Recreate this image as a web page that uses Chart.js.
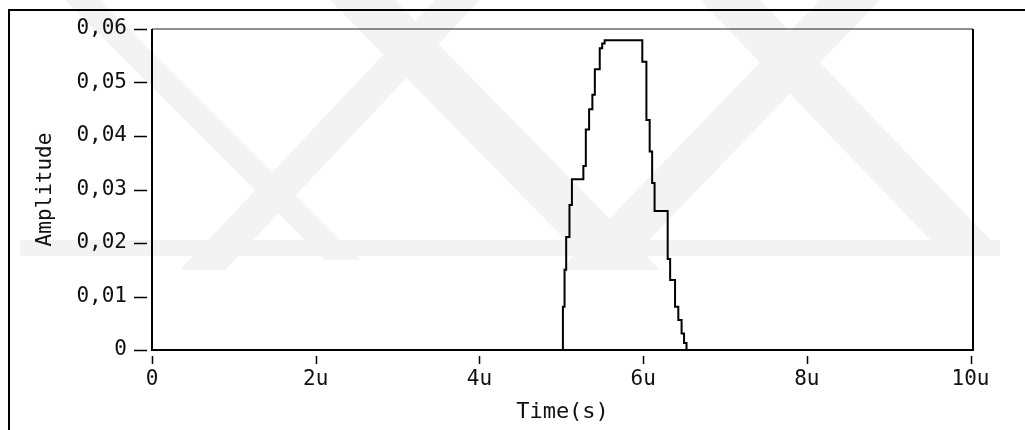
<!DOCTYPE html>
<html><head><meta charset="utf-8">
<script src="https://cdn.jsdelivr.net/npm/chart.js@4/dist/chart.umd.min.js"></script>
<style>html,body{margin:0;padding:0;background:#fff;overflow:hidden}#wrap{position:relative;width:1025px;height:430px}</style>
</head><body><div id="wrap"><canvas id="c" width="1025" height="430"></canvas></div>
<script>
// Time in microseconds (u), value holds from this time onward
const timeUs = [0, 5.02, 5.04, 5.06, 5.10, 5.13, 5.27, 5.30, 5.34, 5.38, 5.41, 5.47, 5.50, 5.53,
  5.99, 6.04, 6.08, 6.11, 6.14, 6.30, 6.33, 6.39, 6.43, 6.47, 6.50, 6.53, 10.03];
const amplitude = [0, 0.0081, 0.0150, 0.0211, 0.0271, 0.0319, 0.0344, 0.0412, 0.0450, 0.0477, 0.0525, 0.0564, 0.0573, 0.0579,
  0.0539, 0.0430, 0.0371, 0.0312, 0.0260, 0.0170, 0.0131, 0.0081, 0.0056, 0.0031, 0.0013, 0, 0];
const xTickValues = [0, 2, 4, 6, 8, 10];
const xTickLabels = ['0', '2u', '4u', '6u', '8u', '10u'];
const yTickValues = [0, 0.01, 0.02, 0.03, 0.04, 0.05, 0.06];
const yTickLabels = ['0', '0,01', '0,02', '0,03', '0,04', '0,05', '0,06'];
const xTitle = 'Time(s)';
const yTitle = 'Amplitude';

const FONT = "'DejaVu Sans Mono', monospace";

const deco = {
  id: 'deco',
  beforeDraw(chart) {
    const ctx = chart.ctx;
    ctx.save();
    ctx.fillStyle = '#fff';
    ctx.fillRect(0, 0, chart.width, chart.height);
    // faint watermark bands
    ctx.fillStyle = '#f3f3f3';
    const polys = [
      [[65,0],[100,0],[360,260],[325,260]],
      [[180,270],[225,270],[480,0],[435,0]],
      [[330,0],[395,0],[660,270],[595,270]],
      [[560,270],[620,270],[880,0],[820,0]],
      [[700,0],[760,0],[1000,250],[940,250]],
      [[20,240],[1000,240],[1000,256],[20,256]]
    ];
    for (const p of polys) {
      ctx.beginPath();
      ctx.moveTo(p[0][0], p[0][1]);
      for (let i = 1; i < p.length; i++) ctx.lineTo(p[i][0], p[i][1]);
      ctx.closePath();
      ctx.fill();
    }
    ctx.restore();
  },
  afterDraw(chart) {
    const ctx = chart.ctx;
    const a = chart.chartArea;
    const xs = chart.scales.x, ys = chart.scales.y;
    ctx.save();
    ctx.strokeStyle = '#000';
    // outer frame (top & left)
    ctx.lineWidth = 2;
    ctx.beginPath();
    ctx.moveTo(1025, 10); ctx.lineTo(9, 10); ctx.lineTo(9, 430);
    ctx.stroke();
    // plot frame
    ctx.lineWidth = 1.2;
    ctx.strokeStyle = '#222';
    ctx.beginPath();
    ctx.moveTo(a.left, a.top); ctx.lineTo(a.right, a.top);
    ctx.stroke();
    ctx.lineWidth = 2;
    ctx.strokeStyle = '#000';
    ctx.beginPath();
    ctx.moveTo(a.right, a.top); ctx.lineTo(a.right, a.bottom); ctx.lineTo(a.left, a.bottom); ctx.lineTo(a.left, a.top);
    ctx.stroke();
    // tick marks
    ctx.lineWidth = 1.5;
    ctx.beginPath();
    for (const v of yTickValues) {
      const y = Math.round(ys.getPixelForValue(v)) + 0.5;
      ctx.moveTo(a.left - 18, y); ctx.lineTo(a.left - 5, y);
    }
    for (const v of xTickValues) {
      const x = Math.round(xs.getPixelForValue(v)) + 0.5;
      ctx.moveTo(x, a.bottom + 6); ctx.lineTo(x, a.bottom + 14);
    }
    ctx.stroke();
    ctx.restore();
  }
};

new Chart(document.getElementById('c'), {
  type: 'line',
  data: {
    datasets: [{
      data: timeUs.map((t, i) => ({ x: t, y: amplitude[i] })),
      borderColor: '#000',
      borderWidth: 2,
      stepped: true,
      pointRadius: 0,
      fill: false,
      clip: false
    }]
  },
  options: {
    responsive: false,
    devicePixelRatio: 1,
    animation: false,
    layout: { padding: { left: 0, top: 29, right: 52, bottom: 1 } },
    plugins: { legend: { display: false }, tooltip: { enabled: false } },
    scales: {
      x: {
        type: 'linear',
        min: 0, max: 10.03,
        afterBuildTicks(s) { s.ticks = xTickValues.map(v => ({ value: v })); },
        afterFit(s) { s.height = 79; },
        grid: { display: false, drawTicks: false },
        border: { display: false },
        ticks: {
          padding: 17,
          color: '#111',
          font: { family: FONT, size: 21 },
          maxRotation: 0,
          autoSkip: false,
          callback: (v) => { const i = xTickValues.indexOf(v); return i >= 0 ? xTickLabels[i] : ''; }
        },
        title: { display: true, text: xTitle, color: '#111', font: { family: FONT, size: 22 }, padding: { top: 0, bottom: 4 } }
      },
      y: {
        type: 'linear',
        min: 0, max: 0.06,
        afterBuildTicks(s) { s.ticks = yTickValues.map(v => ({ value: v })); },
        afterFit(s) { s.width = 152; s.paddingTop = 12; s.paddingBottom = 12; },
        grid: { display: false, drawTicks: false },
        border: { display: false },
        ticks: {
          padding: 25,
          color: '#111',
          font: { family: FONT, size: 21 },
          autoSkip: false,
          callback: (v) => { const i = yTickValues.findIndex(t => Math.abs(t - v) < 1e-9); return i >= 0 ? yTickLabels[i] : ''; }
        },
        title: { display: true, text: yTitle, color: '#111', font: { family: FONT, size: 21 }, padding: { top: 33, bottom: 0 } }
      }
    }
  },
  plugins: [deco]
});
</script>
</body></html>
